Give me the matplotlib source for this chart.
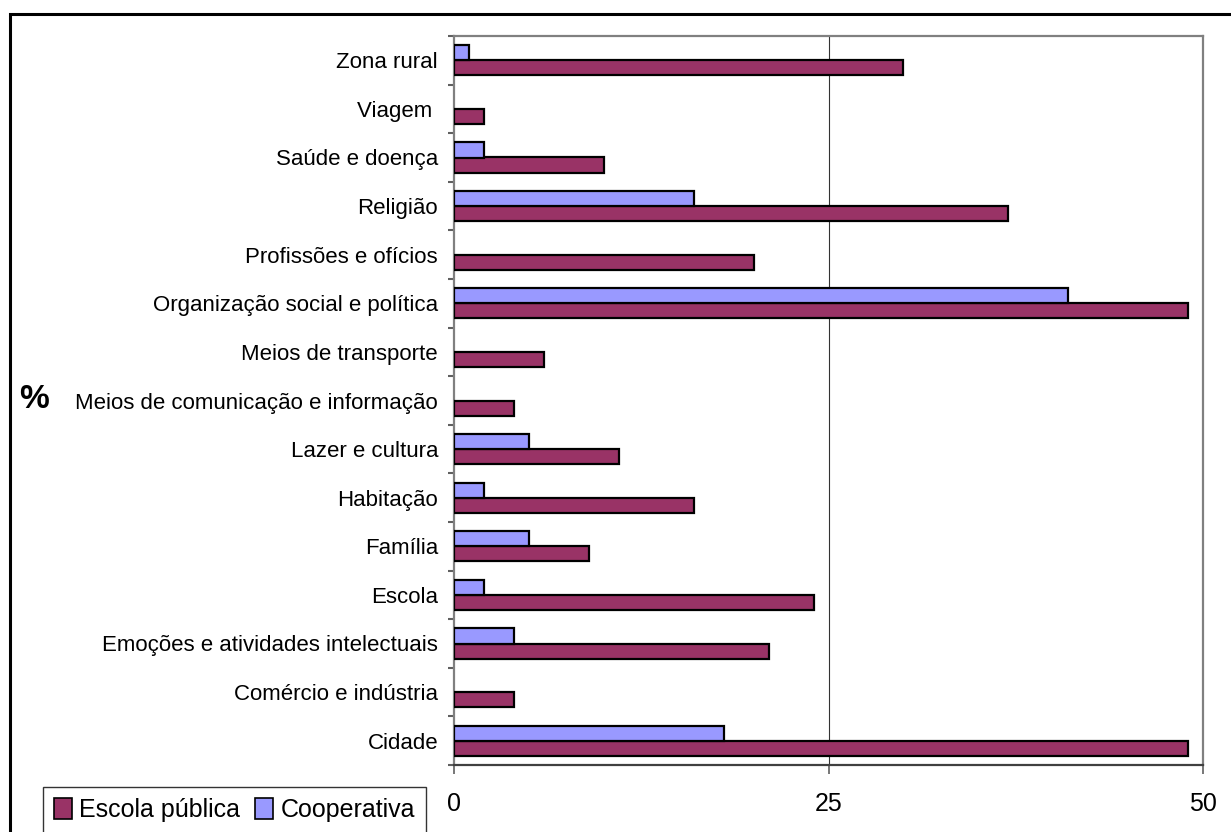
import matplotlib
matplotlib.use("Agg")
import matplotlib.pyplot as plt
import numpy as np
from matplotlib.patches import Rectangle, Patch

plt.rcParams['font.family'] = ['Liberation Sans', 'DejaVu Sans']

categories = ["Cidade", "Comércio e indústria", "Emoções e atividades intelectuais",
              "Escola", "Família", "Habitação", "Lazer e cultura",
              "Meios de comunicação e informação", "Meios de transporte",
              "Organização social e política", "Profissões e ofícios", "Religião",
              "Saúde e doença", "Viagem ", "Zona rural"]
escola_publica = [49, 4, 21, 24, 9, 16, 11, 4, 6, 49, 20, 37, 10, 2, 30]
cooperativa = [18, 0, 4, 2, 5, 2, 5, 0, 0, 41, 0, 16, 2, 0, 1]
xticks = [0, 25, 50]

W, H = 1231, 832
fig = plt.figure(figsize=(W / 100, H / 100), dpi=100)
ax = fig.add_axes([454 / W, (H - 765) / H, (1203 - 454) / W, (765 - 36) / H])

y = np.arange(len(categories))
h = 0.31
ep = np.array(escola_publica, dtype=float)
co = np.array(cooperativa, dtype=float)
c_ep = '#993366'
c_co = '#9999FF'

m1 = ep > 0
m2 = co > 0
ax.barh(y[m1] - h / 2, ep[m1], height=h, color=c_ep, edgecolor='black', linewidth=1.6, zorder=3)
ax.barh(y[m2] + h / 2, co[m2], height=h, color=c_co, edgecolor='black', linewidth=1.6, zorder=3)

ax.set_xlim(0, 50)
ax.set_ylim(-0.5, len(categories) - 0.5)

ax.set_xticks(xticks)
ax.set_xticklabels([str(v) for v in xticks], fontsize=18)
ax.tick_params(axis='x', direction='out', length=6.5, width=1.2, color='#606060', pad=13)
ax.axvline(25, color='#333333', linewidth=0.8, zorder=1)

ax.set_yticks(y)
ax.set_yticklabels(categories, fontsize=16)
ax.tick_params(axis='y', which='major', length=0, pad=11.5)
ax.set_yticks(np.arange(-0.5, len(categories), 1.0), minor=True)
ax.tick_params(axis='y', which='minor', direction='out', length=4.5, width=1.5, color='#606060')

for s in ['top', 'right', 'left']:
    ax.spines[s].set_color('#808080')
    ax.spines[s].set_linewidth(1.6)
ax.spines['bottom'].set_color('#404040')
ax.spines['bottom'].set_linewidth(1.6)

fig.text(34 / W, 1 - 399 / H, '%', fontsize=24, fontweight='bold', ha='center', va='center')

fig.patches.append(Rectangle((10 / W, -0.1), 1.2, 1.1 - 14 / H, transform=fig.transFigure,
                             fill=False, edgecolor='black', linewidth=2.2, zorder=0))

handles = [Patch(facecolor=c_ep, edgecolor='black', linewidth=1.2, label='Escola pública'),
           Patch(facecolor=c_co, edgecolor='black', linewidth=1.2, label='Cooperativa')]
leg = fig.legend(handles=handles, loc='upper left', bbox_to_anchor=(43 / W, 1 - 787 / H),
                 ncol=2, fontsize=18, frameon=True, fancybox=False, edgecolor='black',
                 handlelength=0.7, handleheight=0.9, handletextpad=0.3, columnspacing=0.6,
                 borderpad=0.45, borderaxespad=0)
leg.get_frame().set_linewidth(1.0)

fig.savefig('out.png', dpi=100)
